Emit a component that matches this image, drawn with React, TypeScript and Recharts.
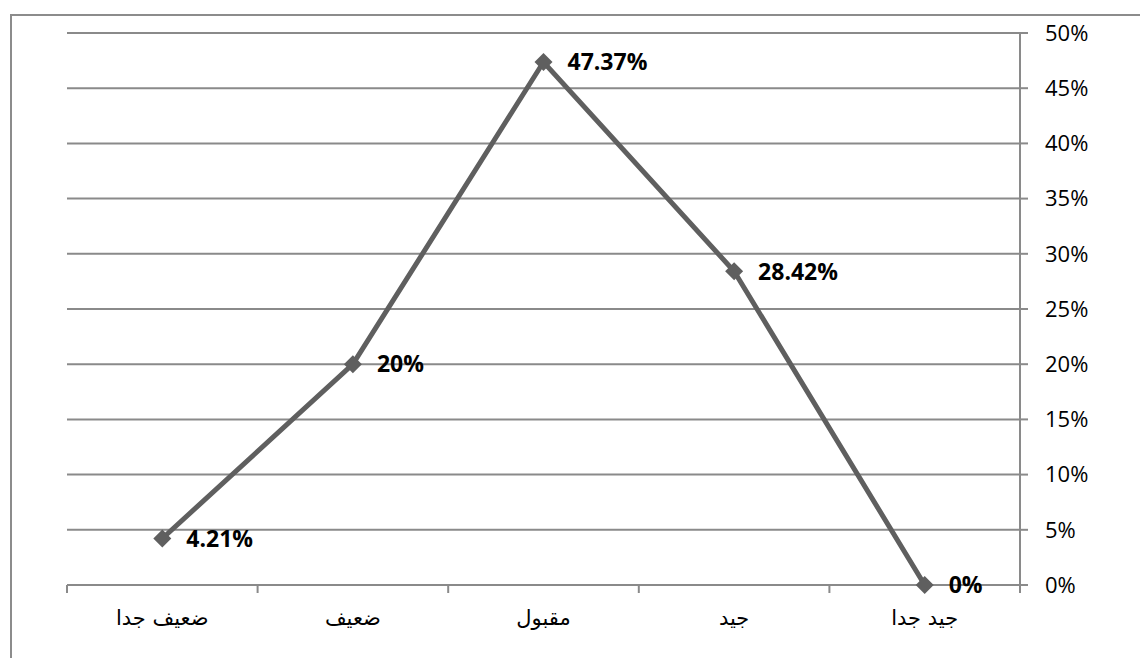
import React from "react";
import { LineChart, Line, XAxis, YAxis, CartesianGrid } from "recharts";

const categories = ["ضعيف جدا", "ضعيف", "مقبول", "جيد", "جيد جدا"];
const values = [4.21, 20, 47.37, 28.42, 0];
const yTicks = [0, 5, 10, 15, 20, 25, 30, 35, 40, 45, 50];

// x sits in the middle of each category band so ticks can mark band edges
const data = categories.map((name, i) => ({ x: i + 0.5, name, value: values[i] }));
const bandEdges = categories.map((_, i) => i).concat(categories.length);
const bandCenters = data.map((d) => d.x);
const xTicks = [...bandEdges, ...bandCenters].sort((a, b) => a - b);

const gridColor = "#8a8a8a";
const lineColor = "#5f5f5f";
const font = "'Open Sans', 'DejaVu Sans', sans-serif";
const tickLen = 8;

const Diamond = (props: any) => {
  const { cx, cy } = props;
  const r = 9;
  return (
    <path
      d={`M${cx},${cy - r}L${cx + r},${cy}L${cx},${cy + r}L${cx - r},${cy}Z`}
      fill={lineColor}
    />
  );
};

const ValueLabel = (props: any) => {
  const { x, y, value } = props;
  return (
    <text
      x={x + 24}
      y={y}
      dy="0.36em"
      fontSize={23}
      fontWeight="bold"
      fontFamily={font}
      fill="#000"
    >
      {`${value}%`}
    </text>
  );
};

// edge ticks get a short mark, centre ticks get the category name
const XTick = (props: any) => {
  const { x, y, payload } = props;
  const idx = bandCenters.indexOf(payload.value);
  if (idx < 0) {
    return <line x1={x} x2={x} y1={y - tickLen} y2={y} stroke={gridColor} strokeWidth={2} />;
  }
  return (
    <text
      x={x}
      y={y + 32}
      textAnchor="middle"
      fontSize={21}
      fontFamily="'DejaVu Sans', sans-serif"
      fill="#000"
    >
      {categories[idx]}
    </text>
  );
};

export default function App() {
  return (
    <div
      style={{
        position: "relative",
        width: 1148,
        height: 666,
        margin: -8,
        overflow: "hidden",
        background: "#fff",
      }}
    >
      <div
        style={{
          position: "absolute",
          left: 10,
          top: 14,
          width: 1300,
          height: 800,
          border: "2px solid #8c8c8c",
        }}
      />
      <div style={{ position: "absolute", left: 0, top: 0 }}>
        <LineChart
          width={1148}
          height={666}
          data={data}
          margin={{ top: 33, right: 0, bottom: 0, left: 67 }}
        >
          <CartesianGrid
            vertical={false}
            stroke={gridColor}
            strokeWidth={2}
            horizontalValues={yTicks}
          />
          <XAxis
            dataKey="x"
            type="number"
            domain={[0, categories.length]}
            ticks={xTicks}
            interval={0}
            tick={<XTick />}
            tickLine={false}
            tickSize={tickLen}
            tickMargin={0}
            stroke={gridColor}
            strokeWidth={2}
            height={81}
          />
          <YAxis
            orientation="right"
            domain={[0, 50]}
            ticks={yTicks}
            interval={0}
            tickSize={8}
            tickMargin={17}
            stroke={gridColor}
            strokeWidth={2}
            tickFormatter={(v: number) => `${v}%`}
            tick={{ fill: "#000", fontSize: 22, fontFamily: font }}
            width={128}
          />
          <Line
            dataKey="value"
            stroke={lineColor}
            strokeWidth={5}
            dot={<Diamond />}
            activeDot={false}
            label={<ValueLabel />}
            isAnimationActive={false}
          />
        </LineChart>
      </div>
    </div>
  );
}
